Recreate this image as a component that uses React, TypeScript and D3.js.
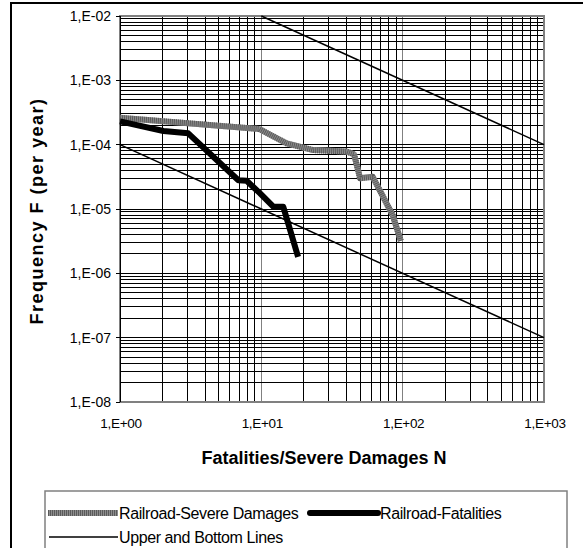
import React from "react";
import * as d3 from "d3";

const severeN = [1, 9.7, 15.1, 23.3, 40.2, 45.3, 50, 61.4, 85, 97];
const severeF = [2.62e-4, 1.75e-4, 1.05e-4, 8.24e-5, 7.8e-5, 7.1e-5, 3.0e-5, 3.17e-5, 8e-6, 3.2e-6];

const fatalN = [1, 2.03, 3.04, 6.88, 7.87, 9.8, 12.2, 14.3, 18.2];
const fatalF = [2.3e-4, 1.63e-4, 1.5e-4, 2.8e-5, 2.75e-5, 1.75e-5, 1.08e-5, 1.08e-5, 1.8e-6];

const upperN = [10, 1000];
const upperF = [1e-2, 1e-4];
const bottomN = [1, 1000];
const bottomF = [1e-4, 1e-7];

const xTicks = [1, 10, 100, 1000];
const xTickLabels = ["1,E+00", "1,E+01", "1,E+02", "1,E+03"];
const yTicks = [1e-2, 1e-3, 1e-4, 1e-5, 1e-6, 1e-7, 1e-8];
const yTickLabels = ["1,E-02", "1,E-03", "1,E-04", "1,E-05", "1,E-06", "1,E-07", "1,E-08"];

const xTitle = "Fatalities/Severe Damages N";
const yTitle = "Frequency F (per year)";
const legendLabels = ["Railroad-Severe Damages", "Railroad-Fatalities", "Upper and Bottom Lines"];

export default function App() {
  const W = 583, H = 548;
  const L = 120, R = 544, T = 16, B = 402;
  const x = d3.scaleLog().domain([1, 1000]).range([L, R]);
  const y = d3.scaleLog().domain([1e-8, 1e-2]).range([B, T]);
  const font = "'Liberation Sans', Arial, sans-serif";

  const line = d3.line<[number, number]>().x(d => x(d[0])).y(d => y(d[1]));
  const zip = (a: number[], b: number[]) => a.map((v, i) => [v, b[i]] as [number, number]);

  const xGrid: number[] = [];
  for (let k = 0; k < 3; k++) for (let m = 1; m <= 9; m++) xGrid.push(m * Math.pow(10, k));
  xGrid.push(1000);
  const yGrid: number[] = [];
  for (let k = -8; k < -2; k++) for (let m = 1; m <= 9; m++) yGrid.push(m * Math.pow(10, k));
  yGrid.push(1e-2);

  const severePath = line(zip(severeN, severeF)) || "";
  const fatalPath = line(zip(fatalN, fatalF)) || "";

  return (
    <svg width={W} height={H} style={{ position: "absolute", left: 0, top: 0, background: "#fff" }}>
      <rect x={11} y={3} width={700} height={700} fill="#fff" stroke="#000" strokeWidth={2} />
      {/* grid */}
      <g shapeRendering="crispEdges">
        {xGrid.map((v, i) => (
          <line key={"xg" + i} x1={x(v)} x2={x(v)} y1={T} y2={B}
            stroke={Math.abs(Math.log10(v) % 1) < 1e-9 ? "#808080" : "#000"} strokeWidth={1} />
        ))}
        {yGrid.map((v, i) => (
          <line key={"yg" + i} x1={L} x2={R} y1={y(v)} y2={y(v)} stroke="#000" strokeWidth={1} />
        ))}
        <rect x={L} y={T} width={R - L} height={B - T} fill="none" stroke="#808080" strokeWidth={2} />
        <line x1={L} x2={L} y1={T} y2={B} stroke="#000" strokeWidth={1} />
        {yTicks.map((v, i) => (
          <line key={"yt" + i} x1={L - 4} x2={L} y1={y(v)} y2={y(v)} stroke="#000" />
        ))}
      </g>
      {/* reference lines */}
      <path d={line(zip(upperN, upperF)) || ""} fill="none" stroke="#000" strokeWidth={1.5} />
      <path d={line(zip(bottomN, bottomF)) || ""} fill="none" stroke="#000" strokeWidth={1.5} />
      {/* severe damages */}
      <path d={severePath} fill="none" stroke="#8c8c8c" strokeWidth={6} strokeLinejoin="round" />
      <path d={severePath} fill="none" stroke="#5a5a5a" strokeWidth={6} strokeDasharray="1 1" strokeLinejoin="round" />
      {/* fatalities */}
      <path d={fatalPath} fill="none" stroke="#000" strokeWidth={6} strokeLinejoin="round" />
      {/* tick labels */}
      {yTicks.map((v, i) => (
        <text key={"yl" + i} x={111} y={y(v)} dy="0.35em" textAnchor="end" fontFamily={font} fontSize={14}>
          {yTickLabels[i]}
        </text>
      ))}
      {xTicks.map((v, i) => (
        <text key={"xl" + i} x={x(v) + 1} y={428} textAnchor="middle" fontFamily={font} fontSize={13.5} letterSpacing={-0.3}>
          {xTickLabels[i]}
        </text>
      ))}
      <text x={(L + R) / 2 - 8} y={464} textAnchor="middle" fontFamily={font} fontSize={18} fontWeight="bold">{xTitle}</text>
      <text transform={`translate(43,211) rotate(-90)`} textAnchor="middle" fontFamily={font} fontSize={18} fontWeight="bold" letterSpacing={1.5}>
        {yTitle}
      </text>
      {/* legend */}
      <rect x={45} y={491} width={522} height={100} fill="#fff" stroke="#808080" strokeWidth={1.5} />
      <line x1={48} x2={118} y1={513} y2={513} stroke="#8c8c8c" strokeWidth={6} />
      <line x1={48} x2={118} y1={513} y2={513} stroke="#5a5a5a" strokeWidth={6} strokeDasharray="1 1" />
      <text x={119} y={519} fontFamily={font} fontSize={16} letterSpacing={-0.4}>{legendLabels[0]}</text>
      <line x1={310} x2={378} y1={513} y2={513} stroke="#000" strokeWidth={6} strokeLinecap="round" />
      <text x={380} y={519} fontFamily={font} fontSize={16} letterSpacing={-0.4}>{legendLabels[1]}</text>
      <line x1={49} x2={118} y1={537} y2={537} stroke="#000" strokeWidth={1.5} />
      <text x={119} y={543} fontFamily={font} fontSize={16} letterSpacing={-0.4}>{legendLabels[2]}</text>
    </svg>
  );
}
